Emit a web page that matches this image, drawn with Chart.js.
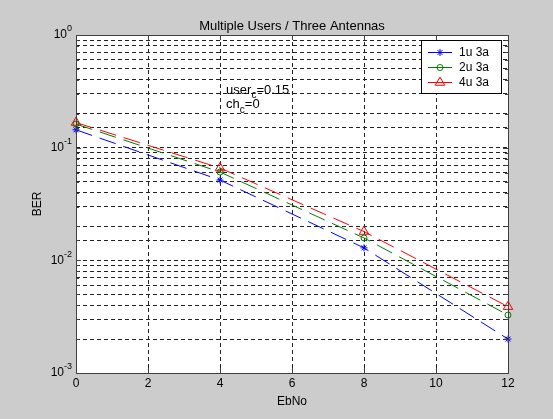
<!DOCTYPE html>
<html>
<head>
<meta charset="utf-8">
<title>Multiple Users / Three Antennas</title>
<script src="https://cdn.jsdelivr.net/npm/chart.js@4.4.1/dist/chart.umd.min.js"></script>
<style>
  html, body { margin: 0; padding: 0; background: #cccccc; }
  #wrap { width: 553px; height: 419px; }
</style>
</head>
<body>
<div id="wrap"><canvas id="ber" width="553" height="419"></canvas></div>
<script>
const ebno = [0, 4, 8, 12];
const ber1u3a = [0.144, 0.0516, 0.0129, 0.0020];
const ber2u3a = [0.162, 0.0608, 0.0158, 0.00327];
const ber4u3a = [0.167, 0.066, 0.018, 0.00388];
const seriesNames = ['1u 3a', '2u 3a', '4u 3a'];
const xTicks = [0, 2, 4, 6, 8, 10, 12];
const yDecades = [0, -1, -2, -3];
const titleText = 'Multiple Users / Three Antennas';
const xLabel = 'EbNo';
const yLabel = 'BER';
// text notes: base, subscript, rest, x, y (data units)
const notes = [
  ['user', 'c', '=0.15', 4.17, 0.325],
  ['ch', 'c', '=0', 4.17, 0.24]
];

const FONT = '"Liberation Sans", Arial, sans-serif';
const GRID_DASH = [4, 3];
const LINE_DASH = [17, 8];

const pts = ys => ebno.map((v, i) => ({ x: v, y: ys[i] }));

const series = [
  { data: ber1u3a, color: '#0000ff', marker: 'star', radius: 3.5 },
  { data: ber2u3a, color: '#008000', marker: 'circle', radius: 3 },
  { data: ber4u3a, color: '#ff0000', marker: 'triangle', radius: 5.5 }
];

// matlab-like figure: grey frame, boxed axes, inside ticks, legend, labels
const matlabAxes = {
  id: 'matlabAxes',
  beforeDraw(chart) {
    const { ctx, chartArea: a } = chart;
    ctx.save();
    ctx.fillStyle = '#cccccc';
    ctx.fillRect(0, 0, chart.width, chart.height);
    ctx.fillStyle = '#ffffff';
    ctx.fillRect(a.left, a.top, a.right - a.left, a.bottom - a.top);
    ctx.restore();
  },
  afterDraw(chart) {
    const { ctx, chartArea: a, scales: { x, y } } = chart;
    ctx.save();
    ctx.setLineDash([]);
    ctx.lineWidth = 1;
    ctx.strokeStyle = '#404040';
    ctx.strokeRect(a.left + 0.5, a.top + 0.5, a.right - a.left, a.bottom - a.top);

    // inside tick marks
    ctx.beginPath();
    y.ticks.forEach(t => {
      const lg = Math.log10(t.value);
      const len = Math.abs(lg - Math.round(lg)) < 1e-9 ? 5 : 3;
      const py = Math.round(y.getPixelForValue(t.value)) + 0.5;
      ctx.moveTo(a.left, py); ctx.lineTo(a.left + len, py);
      ctx.moveTo(a.right, py); ctx.lineTo(a.right - len, py);
    });
    xTicks.forEach(v => {
      const px = Math.round(x.getPixelForValue(v)) + 0.5;
      ctx.moveTo(px, a.bottom); ctx.lineTo(px, a.bottom - 5);
      ctx.moveTo(px, a.top); ctx.lineTo(px, a.top + 5);
    });
    ctx.stroke();

    // y tick labels 10^n
    ctx.fillStyle = '#000';
    ctx.textBaseline = 'middle';
    ctx.textAlign = 'left';
    yDecades.forEach(d => {
      const py = y.getPixelForValue(Math.pow(10, d));
      ctx.font = '9px ' + FONT;
      const exp = String(d);
      const we = ctx.measureText(exp).width;
      ctx.font = '12px ' + FONT;
      const wb = ctx.measureText('10').width;
      const right = a.left - 4;
      ctx.fillText('10', right - we - wb, py);
      ctx.font = '9px ' + FONT;
      ctx.fillText(exp, right - we, py - 6);
    });

    // notes with subscripts
    notes.forEach(([base, sub, rest, vx, vy]) => {
      let px = x.getPixelForValue(vx);
      const py = y.getPixelForValue(vy);
      ctx.font = '13px ' + FONT;
      ctx.fillText(base, px, py);
      px += ctx.measureText(base).width;
      ctx.font = '10px ' + FONT;
      ctx.fillText(sub, px, py + 5);
      px += ctx.measureText(sub).width;
      ctx.font = '13px ' + FONT;
      ctx.fillText(rest, px, py);
    });

    // title and axis labels
    ctx.textAlign = 'center';
    ctx.font = '13px ' + FONT;
    const cx = (a.left + a.right) / 2;
    ctx.fillText(titleText, cx, a.top - 9);
    ctx.font = '12px ' + FONT;
    ctx.fillText(xLabel, cx, 402);
    ctx.save();
    ctx.translate(38, (a.top + a.bottom) / 2);
    ctx.rotate(-Math.PI / 2);
    ctx.fillText(yLabel, 0, 0);
    ctx.restore();

    // legend
    const lx = 421, ly = 40, lw = 80, lh = 53;
    ctx.fillStyle = '#ffffff';
    ctx.fillRect(lx, ly, lw, lh);
    ctx.strokeStyle = '#000';
    ctx.strokeRect(lx + 0.5, ly + 0.5, lw, lh);
    ctx.textAlign = 'left';
    series.forEach((s, i) => {
      const yy = ly + 12 + i * 15;
      ctx.strokeStyle = s.color;
      ctx.lineWidth = 1;
      ctx.beginPath();
      ctx.moveTo(428, yy + 0.5); ctx.lineTo(452, yy + 0.5);
      ctx.stroke();
      ctx.fillStyle = 'rgba(0,0,0,0)';
      Chart.helpers.drawPoint(ctx, { pointStyle: s.marker, radius: s.radius, rotation: 0, borderWidth: 1 }, 440, yy + 0.5);
      ctx.fillStyle = '#000';
      ctx.font = '12px ' + FONT;
      ctx.fillText(seriesNames[i], 459, yy + 1);
    });
    ctx.restore();
  }
};

new Chart(document.getElementById('ber'), {
  type: 'line',
  data: {
    datasets: series.map((s, i) => ({
      label: seriesNames[i],
      data: pts(s.data),
      borderColor: s.color,
      borderWidth: 1,
      borderDash: LINE_DASH,
      tension: 0,
      fill: false,
      clip: false,
      pointStyle: s.marker,
      pointRadius: s.radius,
      pointBorderColor: s.color,
      pointBackgroundColor: 'rgba(0,0,0,0)',
      pointBorderWidth: 1
    }))
  },
  options: {
    responsive: false,
    animation: false,
    devicePixelRatio: 1,
    layout: { padding: { top: 35, right: 45, left: 0, bottom: 0 } },
    plugins: {
      legend: { display: false },
      tooltip: { enabled: false },
      title: { display: false }
    },
    scales: {
      x: {
        type: 'linear',
        min: 0,
        max: 12,
        afterFit: s => { s.height = 46; },
        grid: { color: '#222222', lineWidth: 1, drawTicks: false },
        border: { display: false, dash: GRID_DASH },
        ticks: {
          stepSize: 2,
          autoSkip: false,
          maxRotation: 0,
          padding: 3,
          color: '#000',
          font: { family: FONT, size: 12 }
        }
      },
      y: {
        type: 'logarithmic',
        min: 0.001,
        max: 1,
        afterFit: s => { s.width = 76; },
        grid: { color: '#222222', lineWidth: 1, drawTicks: false },
        border: { display: false, dash: GRID_DASH },
        ticks: { display: false, autoSkip: false }
      }
    }
  },
  plugins: [matlabAxes]
});
</script>
</body>
</html>
